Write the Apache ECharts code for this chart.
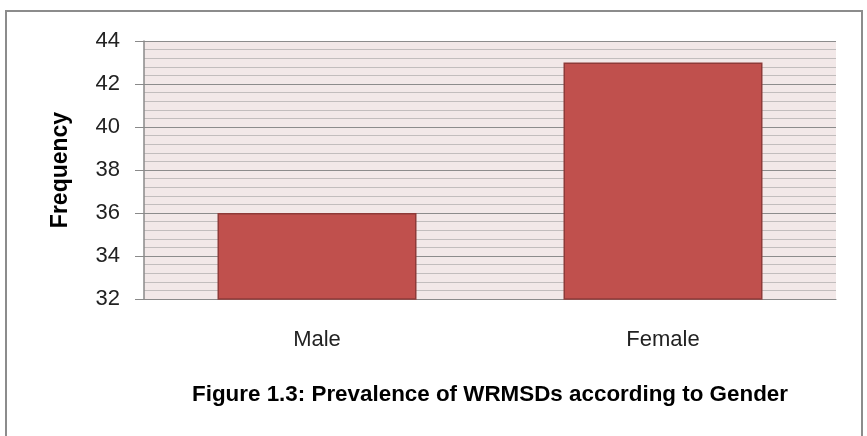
<!DOCTYPE html>
<html>
<head>
<meta charset="utf-8">
<script src="https://cdn.jsdelivr.net/npm/echarts@6/dist/echarts.min.js"></script>
<style>
  html, body { margin: 0; padding: 0; background: #ffffff; }
  #chart { width: 867px; height: 436px; }
</style>
</head>
<body>
<div id="chart"></div>
<script>
// Gender breakdown of work-related musculoskeletal disorders
const categories = ['Male', 'Female'];
const frequency = [36, 43];
const yMin = 32, yMax = 44, yStep = 2;

const chart = echarts.init(document.getElementById('chart'), null, { renderer: 'canvas' });

const labelFont = '"Liberation Sans", "Open Sans", sans-serif';

chart.setOption({
  animation: false,
  backgroundColor: '#ffffff',
  grid: {
    left: 144, top: 41, right: 31, bottom: 137,
    show: true,
    backgroundColor: '#F2E8E8',
    borderWidth: 0
  },
  title: {
    text: 'Figure 1.3: Prevalence of WRMSDs according to Gender',
    left: 485, top: 379,
    textAlign: 'center',
    textStyle: {
      fontFamily: labelFont,
      fontWeight: 'bold',
      fontSize: 22.4,
      color: '#000000'
    }
  },
  graphic: [{
    type: 'rect',
    shape: { x: 6, y: 11, width: 856, height: 440 },
    style: { fill: null, stroke: '#8C8C8C', lineWidth: 2 },
    z: -1
  }],
  xAxis: {
    type: 'category',
    data: categories,
    axisLine: { show: true, lineStyle: { color: '#8A8A8A', width: 1 } },
    axisTick: { show: false },
    axisLabel: {
      margin: 30,
      fontFamily: labelFont,
      fontSize: 22,
      color: '#222222'
    },
    splitLine: { show: false }
  },
  yAxis: {
    type: 'value',
    min: yMin, max: yMax, interval: yStep,
    name: 'Frequency',
    nameLocation: 'middle',
    nameGap: 72,
    nameTextStyle: {
      fontFamily: labelFont,
      fontWeight: 'bold',
      fontSize: 23,
      color: '#000000'
    },
    axisLine: { show: true, lineStyle: { color: '#8A8A8A', width: 1.5 } },
    axisTick: { show: true, length: 9, lineStyle: { color: '#8A8A8A', width: 1 } },
    axisLabel: {
      margin: 24,
      fontFamily: labelFont,
      fontSize: 22,
      color: '#222222'
    },
    splitLine: { show: true, lineStyle: { color: '#8C8C8C', width: 1 } },
    minorTick: { show: false, splitNumber: 5 },
    minorSplitLine: { show: true, lineStyle: { color: '#C2BDBD', width: 1 } }
  },
  series: [{
    type: 'bar',
    data: frequency,
    barWidth: 199,
    itemStyle: {
      color: '#C0504D',
      borderColor: '#8E3A38',
      borderWidth: 1.5
    }
  }]
});
</script>
</body>
</html>
